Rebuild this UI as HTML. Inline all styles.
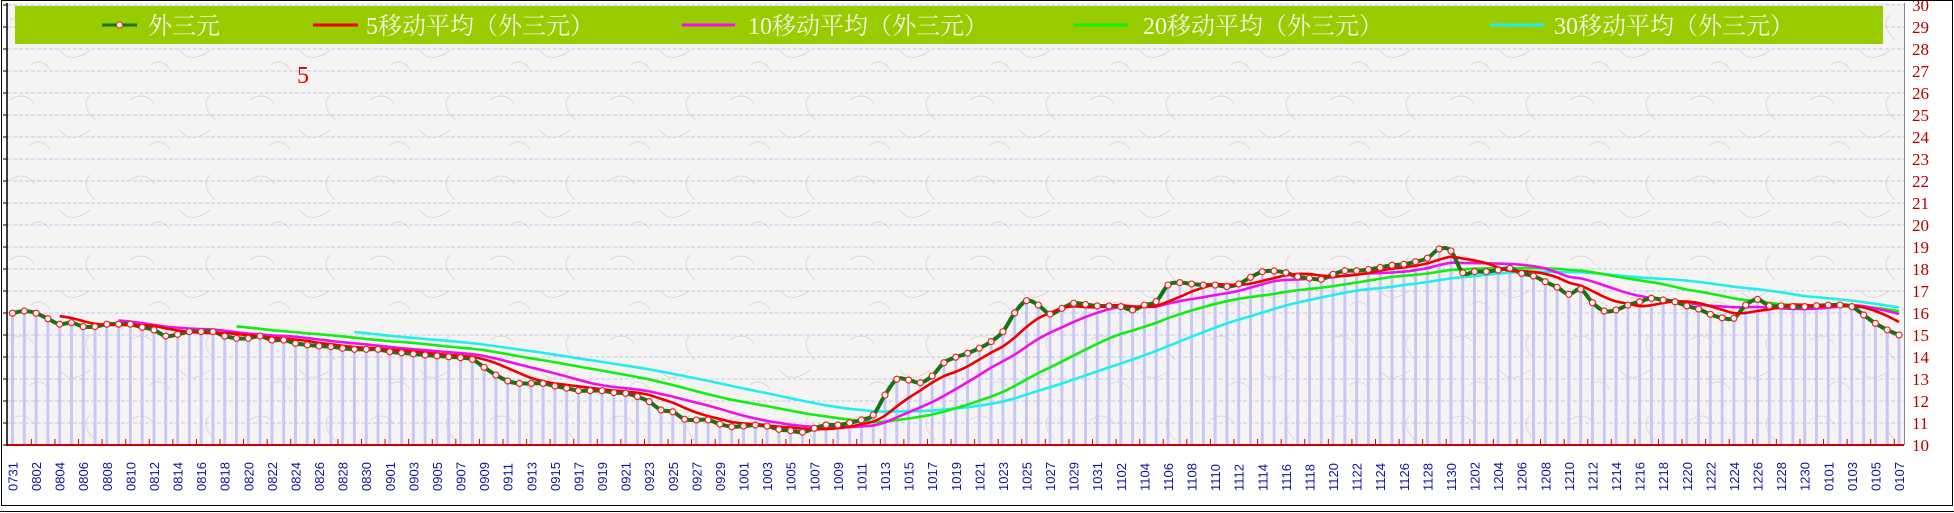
<!DOCTYPE html>
<html><head><meta charset="utf-8">
<style>
html,body{margin:0;padding:0;background:#fff;}
svg{display:block;}
</style></head>
<body>
<svg id="s" width="1954" height="513" xmlns="http://www.w3.org/2000/svg" font-family="'Liberation Serif','Noto Serif CJK SC',serif">
<defs>
<pattern id="tex" width="120" height="80" patternUnits="userSpaceOnUse">
<rect width="120" height="80" fill="#f6f4f2"/>
<path d="M10 20 q15 -10 25 5 M60 50 q10 15 30 0 M90 15 q-10 10 5 25 M30 65 q10 -8 20 4" stroke="#dcdad8" fill="none" stroke-width="1"/>
</pattern>
</defs>
<rect x="0" y="0" width="1954" height="513" fill="#fff"/>
<rect x="7" y="3" width="1897" height="442" fill="url(#tex)"/>
<g id="g"></g>
</svg>
<script>
var v=[15.99,16.09,15.99,15.74,15.49,15.56,15.38,15.38,15.49,15.49,15.49,15.35,15.23,14.95,15.03,15.15,15.15,15.15,14.95,14.85,14.85,14.95,14.77,14.77,14.62,14.55,14.5,14.47,14.40,14.35,14.35,14.35,14.24,14.19,14.14,14.09,14.05,14.01,13.97,13.89,
13.53,13.18,12.91,12.80,12.80,12.80,12.68,12.58,12.47,12.47,12.47,12.38,12.35,12.20,11.97,11.59,11.51,11.17,11.14,11.14,10.95,10.83,10.86,10.91,10.86,10.71,10.65,10.58,10.76,10.91,10.91,11.01,11.14,11.36,12.27,12.99,12.95,12.83,13.14,13.74,13.99,
14.17,14.40,14.70,15.15,16.01,16.56,16.36,15.95,16.21,16.44,16.39,16.32,16.32,16.29,16.14,16.36,16.52,17.27,17.38,17.32,17.27,17.27,17.20,17.32,17.62,17.88,17.91,17.83,17.65,17.58,17.53,17.76,17.92,17.92,17.98,18.07,18.17,18.21,18.33,18.49,
18.91,18.82,17.83,17.88,17.88,17.95,18.03,17.80,17.68,17.42,17.17,16.85,17.08,16.47,16.09,16.14,16.36,16.51,16.67,16.59,16.51,16.32,16.18,15.94,15.78,15.76,16.36,16.62,16.32,16.32,16.29,16.29,16.33,16.36,16.36,16.29,15.91,15.53,15.23,15.00];
var N=v.length,x0=12.5,dx=(1899-12.5)/(N-1);
function X(i){return x0+i*dx;}
function Y(val){return 445-(val-10)*22;}
var h='';
for(var k=10;k<=30;k++){var y=Y(k);
 if(k>10)h+='<line x1="7" y1="'+y+'" x2="1904" y2="'+y+'" stroke="#c8c8ee" stroke-dasharray="4,2"/>';
 h+='<line x1="3" y1="'+y+'" x2="7" y2="'+y+'" stroke="#000"/>';
 h+='<text x="1912" y="'+(y+6)+'" font-size="17" fill="#b00000">'+k+'</text>';}
for(var i=0;i<N;i++){h+='<rect x="'+(X(i)-1.5)+'" y="'+Y(v[i])+'" width="3" height="'+(445-Y(v[i]))+'" fill="#c8c8f8"/>';}
var d=[],m=[7,8,9,10,11,12,1],ml=[31,31,30,31,30,31,31],st=[31,1,1,1,1,1,1];
for(var a=0;a<7;a++){for(var dd=st[a];dd<=ml[a];dd++){d.push((m[a]<10?'0':'')+m[a]+(dd<10?'0':'')+dd);}}
d=d.slice(0,N);
for(var i=0;i<N;i+=2){var xx=X(i)+5;
 h+='<text transform="translate('+xx+',491) rotate(-90)" font-size="13" font-family="Liberation Sans,sans-serif" fill="#1010a0">'+d[i]+'</text>';}
h+='<line x1="7" y1="445" x2="1904" y2="445" stroke="#cc0000" stroke-width="2"/>';
for(var i=1.6;i<N;i+=2){h+='<line x1="'+X(i)+'" y1="439" x2="'+X(i)+'" y2="445" stroke="#cc0000"/>';}
h+='<line x1="7" y1="3" x2="7" y2="446" stroke="#000" stroke-width="1.5"/>';
h+='<line x1="1904.5" y1="3" x2="1904.5" y2="445" stroke="#888"/>';
function path(pts){if(pts.length<2)return'';var s='M'+pts[0][0]+' '+pts[0][1];
 for(var i=0;i<pts.length-1;i++){var p0=pts[i-1]||pts[i],p1=pts[i],p2=pts[i+1],p3=pts[i+2]||p2;
 s+=' C'+(p1[0]+(p2[0]-p0[0])/6)+' '+(p1[1]+(p2[1]-p0[1])/6)+' '+(p2[0]-(p3[0]-p1[0])/6)+' '+(p2[1]-(p3[1]-p1[1])/6)+' '+p2[0]+' '+p2[1];}return s;}
function ma(n,col){var p=[];for(var i=n-1;i<N;i++){var s=0;for(var j=i-n+1;j<=i;j++)s+=v[j];p.push([X(i),Y(s/n)]);}
 return '<path d="'+path(p)+'" stroke="'+col+'" stroke-width="2.6" fill="none"/>';}
h+=ma(30,'#22eeee')+ma(20,'#11ee11')+ma(10,'#ee11ee');
var mp=[];for(var i=0;i<N;i++)mp.push([X(i),Y(v[i])]);
h+='<path d="'+path(mp)+'" stroke="#117711" stroke-width="4" fill="none"/>';
h+=ma(5,'#ee0000');
for(var i=0;i<N;i++)h+='<circle cx="'+X(i)+'" cy="'+Y(v[i])+'" r="3" fill="#fff" stroke="#ee2222" stroke-width="1.2"/>';
h+='<rect x="15" y="6" width="1868" height="38" fill="#99cc00"/>';
var L=[[102,137,148,'外三元','#117711',1],[313,358,366,'5移动平均（外三元）','#ee0000',0],[682,735,748,'10移动平均（外三元）','#ee11ee',0],[1074,1128,1143,'20移动平均（外三元）','#11ee11',0],[1490,1544,1542+12,'30移动平均（外三元）','#22eeee',0]];
L.forEach(function(l){h+='<line x1="'+l[0]+'" y1="25" x2="'+l[1]+'" y2="25" stroke="'+l[4]+'" stroke-width="3"/>';
 if(l[5])h+='<circle cx="'+((l[0]+l[1])/2)+'" cy="25" r="3" fill="#fff" stroke="#ee2222"/>';
 h+='<text x="'+l[2]+'" y="34" font-size="24" fill="#f4f4e4">'+l[3]+'</text>';});
h+='<text x="297" y="83" font-size="24" fill="#dd0000">5</text>';
h+='<rect x="1.5" y="0.5" width="1951" height="505" fill="none" stroke="#000"/>';
h+='<line x1="0" y1="511.5" x2="1954" y2="511.5" stroke="#000"/>';
document.getElementById('g').innerHTML=h;
</script>
</body></html>
